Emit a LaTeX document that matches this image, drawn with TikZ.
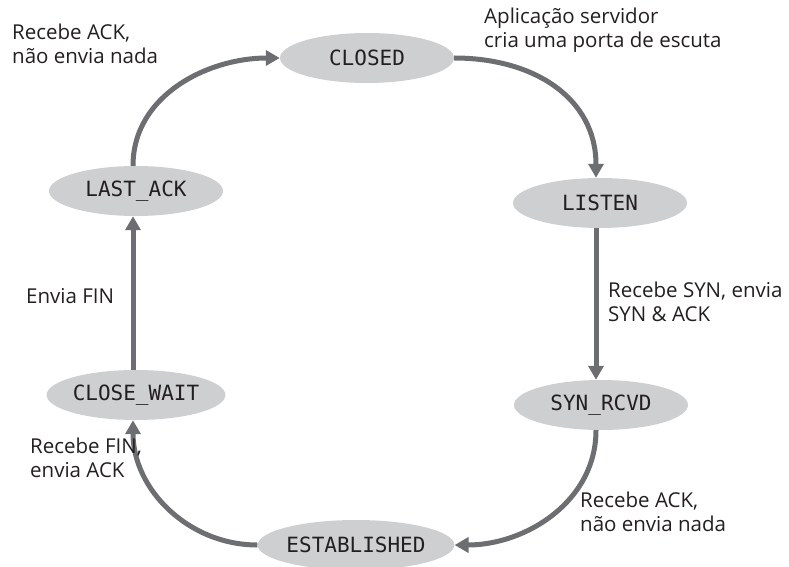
\documentclass[tikz,border=0pt]{standalone}
\usepackage{fontspec}
\setmainfont{Open Sans}
\newfontfamily\statefont{DejaVu Sans Mono}
\usetikzlibrary{shapes.geometric,arrows.meta}
\definecolor{stfill}{RGB}{206,207,209}
\definecolor{arr}{RGB}{109,110,114}
\definecolor{txt}{RGB}{35,31,32}
\tikzset{
  state/.style={ellipse, fill=stfill, minimum width=174pt, minimum height=50pt, inner sep=0pt,
    font=\statefont\fontsize{21}{23}\selectfont, text=txt},
  trans/.style={draw=arr, line width=5pt, -{Triangle[length=14pt,width=15pt]}},
  lbl/.style={anchor=west, align=left, inner sep=0pt, text=txt,
    font=\fontsize{20.5}{23.5}\selectfont},
}
\begin{document}
\begin{tikzpicture}[x=1pt,y=-1pt]
\useasboundingbox (0,0) rectangle (789,567);
\node[state] (closed) at (367,58) {CLOSED};
\node[state] (listen) at (600,203) {LISTEN};
\node[state] (synrcvd) at (601,405) {SYN\_RCVD};
\node[state] (estab) at (356,545) {ESTABLISHED};
\node[state] (closewait) at (136,395) {CLOSE\_WAIT};
\node[state] (lastack) at (136,191) {LAST\_ACK};

\draw[trans] (closed.east) to[out=0,in=90,looseness=1.1] ([xshift=-4pt]listen.north);
\draw[trans] ([xshift=-4pt]listen.south) -- ([xshift=-5pt]synrcvd.north);
\draw[trans] ([xshift=-5pt]synrcvd.south) to[out=-90,in=0,looseness=1.0] (estab.east);
\draw[trans] (estab.west) to[out=180,in=-90,looseness=1.0] ([xshift=-3pt]closewait.south);
\draw[trans] ([xshift=-3pt]closewait.north) -- ([xshift=-3pt]lastack.south);
\draw[trans] ([xshift=-3pt]lastack.north) to[out=90,in=180,looseness=1.0] (closed.west);

\node[lbl] (l1) at (484,30) {Aplicação servidor\\cria uma porta de escuta};
\node[lbl] (l2) at (12,44) {Recebe ACK,\\não envia nada};
\node[lbl] (l3) at (26,296) {Envia FIN};
\node[lbl] (l4) at (608,302) {Recebe SYN, envia\\SYN \& ACK};
\node[lbl] (l5) at (30,458) {Recebe FIN,\\envia ACK};
\node[lbl] (l6) at (580,512) {Recebe ACK,\\não envia nada};
\end{tikzpicture}
\end{document}
